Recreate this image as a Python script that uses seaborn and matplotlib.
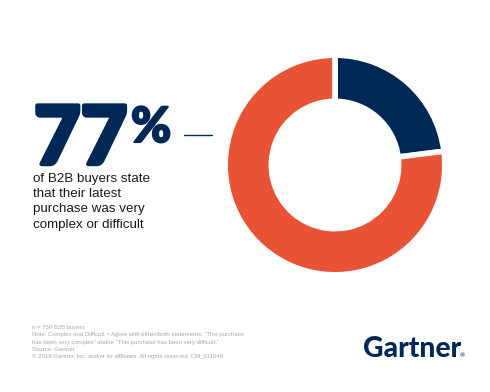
import matplotlib
matplotlib.use("Agg")
import matplotlib.pyplot as plt
import matplotlib.patheffects as pe
import seaborn as sns

# data
labels = ["Very complex or difficult", "Other"]
shares = [77, 23]
headline = "77"
body_lines = ["of B2B buyers state", "that their latest", "purchase was very", "complex or difficult"]
notes = [
    "n = 750 B2B buyers",
    "Note: Complex and Difficult = Agree with either/both statements: \u201cThis purchase",
    "has been very complex\u201d and/or \u201cThis purchase has been very difficult.\u201d",
    "Source: Gartner",
    "\u00a9 2019 Gartner, Inc. and/or its affiliates. All rights reserved. CM_611049",
]

NAVY = "#002856"
ORANGE = "#E95335"
W, H = 490, 392

sns.set_theme(style="white")
plt.rcParams["font.family"] = ["Lato", "DejaVu Sans"]

fig = plt.figure(figsize=(W / 100, H / 100), dpi=100)
fig.patch.set_facecolor("white")


def fx(x):
    return x / W


def fy(y):
    return 1 - y / H


# donut, centre (335,165), radius 112 px
cx, cy, r = 335, 165, 112
ax = fig.add_axes([fx(cx - r), fy(cy + r), 2 * r / W, 2 * r / H])
ax.pie(
    [shares[1], shares[0]],
    colors=[NAVY, ORANGE],
    startangle=90,
    counterclock=False,
    radius=1,
    wedgeprops=dict(width=0.42, edgecolor="white", linewidth=4),
)
ax.set_xlim(-1.02, 1.02)
ax.set_ylim(-1.02, 1.02)
ax.set_aspect("equal")
ax.axis("off")

# headline
heavy = [pe.withStroke(linewidth=3.2, foreground=NAVY)]
fig.text(fx(34), fy(164), headline, fontsize=58, fontweight="black", color=NAVY,
         ha="left", va="baseline", path_effects=heavy)
fig.text(fx(131), fy(142), "%", fontsize=35, fontweight="black", color=NAVY,
         ha="left", va="baseline", path_effects=[pe.withStroke(linewidth=1.5, foreground=NAVY)])
fig.add_artist(plt.Line2D([fx(184), fx(212)], [fy(135), fy(135)], color=NAVY, lw=1.0))

for i, line in enumerate(body_lines):
    fig.text(fx(33), fy(182 + i * 15.2), line, fontsize=9.6, color="#1a1a1a",
             ha="left", va="baseline", family=["Liberation Sans", "DejaVu Sans"])

for i, line in enumerate(notes):
    fig.text(fx(32), fy(329 + i * 7.3), line, fontsize=4.3, color="#a8a8a8",
             ha="left", va="baseline", family=["Liberation Sans", "DejaVu Sans"])

# logo
fig.text(fx(363), fy(357), "Gartner", fontsize=20.3, fontweight="black", color=NAVY,
         ha="left", va="baseline")
fig.text(fx(460), fy(357), "\u00ae", fontsize=4.5, color=NAVY, ha="left", va="baseline")

fig.savefig("out.png", dpi=100)
